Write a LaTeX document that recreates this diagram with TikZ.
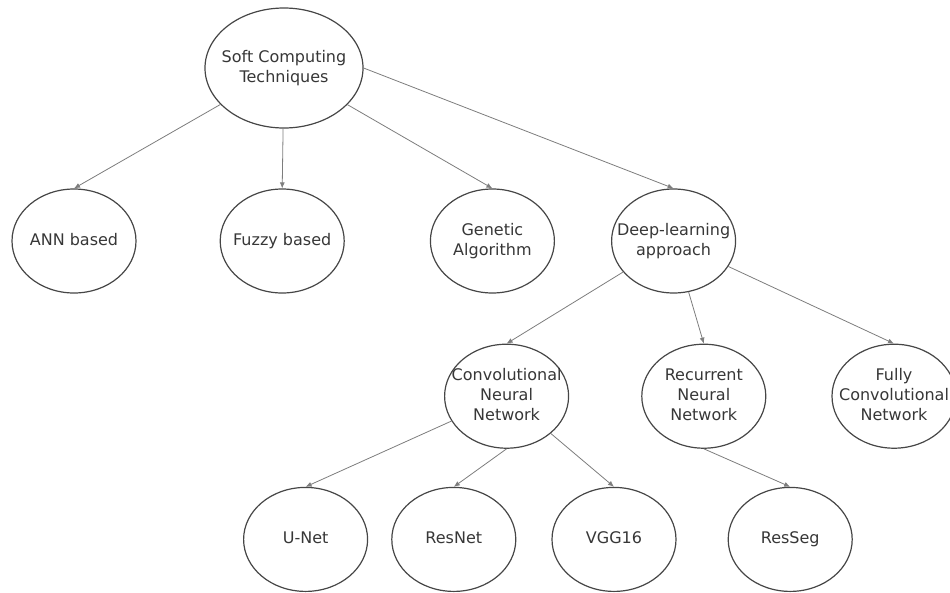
\documentclass[tikz,border=0pt]{standalone}
\usepackage{fontspec}
\setmainfont{DejaVu Sans}
\usepackage{tikz}
\usetikzlibrary{arrows.meta,positioning,shapes.geometric}
\definecolor{OvalGray}{RGB}{70,70,70}
\definecolor{EdgeGray}{RGB}{125,125,125}
\definecolor{TextGray}{RGB}{55,55,55}

% centred multi-line text that never widens the oval
\newcommand{\ovaltext}[1]{\makebox[0pt]{\begin{tabular}{@{}c@{}}#1\end{tabular}}}

\begin{document}
\begin{tikzpicture}[
    x=1pt, y=-1pt,
    oval/.style={ellipse, draw=OvalGray, line width=1.2pt, fill=white,
                 inner sep=0pt, minimum width=124pt, minimum height=104pt,
                 text=TextGray, font=\fontsize{16}{20}\selectfont},
    arr/.style={-{Latex[length=6pt,width=5pt]}, draw=EdgeGray, line width=0.8pt},
]
\useasboundingbox (0,0) rectangle (950,592);

% ── Root ──
\node[oval, minimum width=158pt, minimum height=120pt] (soft) at (284,68)
    {\ovaltext{Soft Computing\\Techniques}};

% ── Second row ──
\node[oval] (ann) at (74,241) {\ovaltext{ANN based}};
\node[oval, right=83pt of ann] (fuzzy) {\ovaltext{Fuzzy based}};
\node[oval, right=85pt of fuzzy] (genetic) {\ovaltext{Genetic\\Algorithm}};
\node[oval, right=56pt of genetic] (deep) {\ovaltext{Deep-learning\\approach}};

% ── Deep-learning branches ──
\node[oval, below=50pt of deep, xshift=-167pt] (cnn) {\ovaltext{Convolutional\\Neural\\Network}};
\node[oval, right=72pt of cnn] (rnn) {\ovaltext{Recurrent\\Neural\\Network}};
\node[oval, right=65pt of rnn] (fcn) {\ovaltext{Fully\\Convolutional\\Network}};

% ── Models ──
\node[oval, below=38pt of cnn, xshift=-201pt] (unet) {\ovaltext{U-Net}};
\node[oval, right=23pt of unet] (resnet) {\ovaltext{ResNet}};
\node[oval, right=35pt of resnet] (vgg) {\ovaltext{VGG16}};
\node[oval, right=51pt of vgg] (resseg) {\ovaltext{ResSeg}};

% ── Arrows ──
\draw[arr] (soft) -- (ann.north);
\draw[arr] (soft) -- (fuzzy.north);
\draw[arr] (soft) -- (genetic.north);
\draw[arr] (soft.east) -- (deep.north);

\draw[arr] (deep) -- (cnn.north);
\draw[arr] (deep) -- (rnn.north);
\draw[arr] (deep) -- (fcn.north);

\draw[arr] (cnn) -- (unet.north);
\draw[arr] (cnn.south) -- (resnet.north);
\draw[arr] (cnn) -- (vgg.north);
\draw[arr] (rnn.south) -- (resseg.north);

\end{tikzpicture}
\end{document}
